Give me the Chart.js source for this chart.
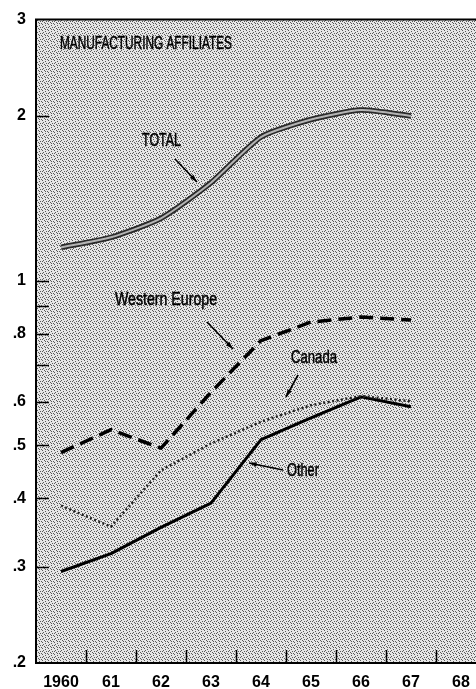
<!DOCTYPE html>
<html lang="en">
<head>
    <meta charset="UTF-8">
    <title>Manufacturing Affiliates</title>
    <script src="https://cdn.jsdelivr.net/npm/chart.js"></script>
    <style>
        html, body { margin: 0; padding: 0; overflow: hidden; background: #fff; }
        canvas { display: block; }
    </style>
</head>
<body>
    <canvas id="chart" width="486" height="689"></canvas>

    <script>
        // Data (log scale, 1960-67)
        const years = ['1960', '61', '62', '63', '64', '65', '66', '67', '68'];
        const total = [1.15, 1.20, 1.30, 1.51, 1.83, 1.97, 2.05, 2.00];
        const westernEurope = [0.485, 0.534, 0.494, 0.625, 0.777, 0.84, 0.858, 0.847];
        const canada = [0.388, 0.355, 0.45, 0.504, 0.552, 0.592, 0.615, 0.602];
        const other = [0.294, 0.317, 0.354, 0.392, 0.512, 0.561, 0.613, 0.588];

        const yTickValues = [3, 2, 1, 0.9, 0.8, 0.7, 0.6, 0.5, 0.4, 0.3, 0.2];
        const yTickLabels = ['3', '2', '1', '', '.8', '', '.6', '.5', '.4', '.3', '.2'];

        // Labels and arrows written on the chart
        const notes = [
            { text: 'MANUFACTURING AFFILIATES', x: 60, y: 44, w: 172 },
            { text: 'TOTAL', x: 142, y: 141, w: 39 },
            { text: 'Western Europe', x: 115, y: 300, w: 102 },
            { text: 'Canada', x: 291, y: 358, w: 46 },
            { text: 'Other', x: 287, y: 471, w: 32 }
        ];
        const arrows = [
            [175, 159, 197, 182],
            [207, 322, 233, 349],
            [298, 375, 286, 397],
            [283, 470, 249, 463]
        ];

        function stipple() {
            const tile = document.createElement('canvas');
            tile.width = 6;
            tile.height = 6;
            const c = tile.getContext('2d');
            c.fillStyle = '#e6e6e6';
            c.fillRect(0, 0, 6, 6);
            c.fillStyle = '#5a5a5a';
            [[0,0],[3,1],[1,2],[4,3],[2,4],[5,5],[0,3],[3,5]].forEach(p => c.fillRect(p[0], p[1], 1, 1));
            return tile;
        }

        const paper = {
            id: 'paper',
            beforeDraw(chart) {
                const { ctx, chartArea: a } = chart;
                ctx.save();
                ctx.fillStyle = ctx.createPattern(stipple(), 'repeat');
                ctx.fillRect(a.left, a.top, a.right - a.left, a.bottom - a.top);
                ctx.restore();
            },
            afterDraw(chart) {
                const { ctx, chartArea: a } = chart;
                const xs = chart.scales.x, ys = chart.scales.y;
                ctx.save();
                ctx.strokeStyle = '#000';

                // top frame line
                ctx.lineWidth = 2;
                ctx.beginPath();
                ctx.moveTo(a.left - 1, a.top);
                ctx.lineTo(a.right, a.top);
                ctx.stroke();

                // inward tick marks
                ctx.lineWidth = 1.5;
                ctx.beginPath();
                yTickValues.forEach(v => {
                    if (v === 3 || v === 0.2) return;
                    const y = Math.round(ys.getPixelForValue(v)) + 0.5;
                    ctx.moveTo(a.left, y);
                    ctx.lineTo(a.left + 13, y);
                });
                for (let i = 0; i < years.length - 1; i++) {
                    const x = Math.round((xs.getPixelForTick(i) + xs.getPixelForTick(i + 1)) / 2) + 0.5;
                    ctx.moveTo(x, a.bottom);
                    ctx.lineTo(x, a.bottom - 13);
                }
                ctx.stroke();

                // notes
                ctx.fillStyle = '#000';
                ctx.strokeStyle = '#000';
                ctx.lineWidth = 0.5;
                ctx.font = '19px "Liberation Sans", Arial, sans-serif';
                ctx.textBaseline = 'middle';
                ctx.textAlign = 'left';
                notes.forEach(n => {
                    ctx.fillText(n.text, n.x, n.y, n.w);
                    ctx.strokeText(n.text, n.x, n.y, n.w);
                });

                // arrows
                ctx.lineWidth = 1.6;
                arrows.forEach(([x1, y1, x2, y2]) => {
                    const ang = Math.atan2(y2 - y1, x2 - x1);
                    ctx.beginPath();
                    ctx.moveTo(x1, y1);
                    ctx.lineTo(x2, y2);
                    ctx.stroke();
                    ctx.beginPath();
                    ctx.moveTo(x2, y2);
                    ctx.lineTo(x2 - 8 * Math.cos(ang - 0.3), y2 - 8 * Math.sin(ang - 0.3));
                    ctx.lineTo(x2 - 8 * Math.cos(ang + 0.3), y2 - 8 * Math.sin(ang + 0.3));
                    ctx.closePath();
                    ctx.fill();
                });
                ctx.restore();
            }
        };

        const chart = new Chart(document.getElementById('chart'), {
            type: 'line',
            data: {
                labels: years,
                datasets: [
                    { data: total, borderColor: '#b4b4b4', borderWidth: 2, tension: 0.2, order: 0 },
                    { data: total, borderColor: '#2a2a2a', borderWidth: 5.5, tension: 0.2, order: 1 },
                    { data: westernEurope, borderColor: '#000', borderWidth: 3.5, borderDash: [14, 7], order: 2 },
                    { data: canada, borderColor: '#222', borderWidth: 2.5, borderDash: [2, 2.5], order: 3 },
                    { data: other, borderColor: '#000', borderWidth: 3, order: 4 }
                ]
            },
            options: {
                responsive: false,
                animation: false,
                events: [],
                layout: { padding: { top: 16, left: 0, right: 0, bottom: 0 } },
                elements: { point: { radius: 0 }, line: { borderCapStyle: 'butt', borderJoinStyle: 'round' } },
                plugins: { legend: { display: false }, tooltip: { enabled: false } },
                scales: {
                    x: {
                        type: 'category',
                        offset: true,
                        grid: { display: false, drawTicks: false },
                        border: { display: true, color: '#000', width: 2 },
                        ticks: {
                            color: '#000',
                            padding: 10,
                            maxRotation: 0,
                            autoSkip: false,
                            font: { family: '"Liberation Sans", Arial, sans-serif', size: 16, weight: 'bold' }
                        },
                        afterFit(s) { s.height = 26; }
                    },
                    y: {
                        type: 'logarithmic',
                        min: 0.2,
                        max: 3,
                        grid: { display: false, drawTicks: false },
                        border: { display: true, color: '#000', width: 2 },
                        afterBuildTicks(s) { s.ticks = yTickValues.map(v => ({ value: v })); },
                        afterFit(s) { s.width = 36; },
                        ticks: {
                            color: '#000',
                            padding: 10,
                            autoSkip: false,
                            font: { family: '"Liberation Sans", Arial, sans-serif', size: 16, weight: 'bold' },
                            callback: (v) => yTickLabels[yTickValues.indexOf(v)] ?? ''
                        }
                    }
                }
            },
            plugins: [paper]
        });
    </script>
</body>
</html>
